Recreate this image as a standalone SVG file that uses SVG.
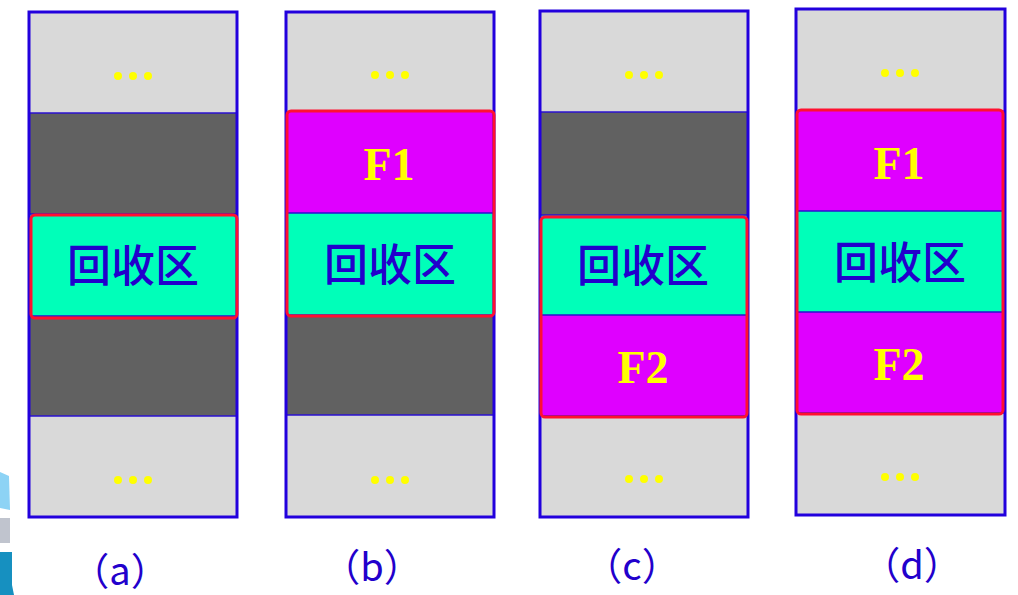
<svg xmlns="http://www.w3.org/2000/svg" width="1018" height="595" viewBox="0 0 1018 595">
<style>
.lg{fill:#D9D9D9}
.dk{fill:#616161}
.cy{fill:#00FFB9}
.mg{fill:#DF00FF}
.sep{stroke:#2A10D0;stroke-width:1.5}
.out{fill:none;stroke:#2200DD;stroke-width:3}
.red{fill:none;stroke:#FF1030;stroke-width:3}
.dot{fill:#FFFF00}
.cn{font-family:"Noto Sans CJK SC",sans-serif;font-size:44px;font-weight:500;fill:#2200CC;text-anchor:middle}
.f{font-family:"Liberation Serif",serif;font-weight:bold;font-size:46px;fill:#FFFF00;text-anchor:middle}
.lab{font-family:"Noto Sans CJK SC",sans-serif;font-size:38px;fill:#2200CC;text-anchor:middle}
</style>
<rect width="1018" height="595" fill="#FFFFFF"/>
<g id="decor">
<polygon points="0,472 9,476 10,510 0,508" fill="#8DD3F5"/>
<polygon points="0,518 10,518 10,543 0,543" fill="#C0C4CE"/>
<polygon points="0,552 12,552 12,585 14,595 0,595" fill="#1690C0"/>
</g>
<g id="col-a">
<rect class="lg" x="29" y="12" width="208" height="101"/>
<rect class="dk" x="29" y="113" width="208" height="101"/>
<rect class="cy" x="29" y="214" width="208" height="102"/>
<rect class="dk" x="29" y="316" width="208" height="100"/>
<rect class="lg" x="29" y="416" width="208" height="101"/>
<line class="sep" x1="29" y1="113" x2="237" y2="113"/>
<line class="sep" x1="29" y1="214" x2="237" y2="214"/>
<line class="sep" x1="29" y1="316" x2="237" y2="316"/>
<line class="sep" x1="29" y1="416" x2="237" y2="416"/>
<rect class="out" x="29" y="12" width="208" height="505"/>
<rect class="red" x="31" y="215" width="206" height="103" rx="4"/>
<circle class="dot" cx="118" cy="76" r="4"/><circle class="dot" cx="133" cy="76" r="4"/><circle class="dot" cx="148" cy="76" r="4"/>
<circle class="dot" cx="118" cy="480" r="4"/><circle class="dot" cx="133" cy="480" r="4"/><circle class="dot" cx="148" cy="480" r="4"/>
<text class="cn" x="133" y="282">回收区</text>
<text class="lab" x="120" y="585">（a）</text>
</g>
<g id="col-b">
<rect class="lg" x="286" y="12" width="208" height="99"/>
<rect class="mg" x="286" y="111" width="208" height="102"/>
<rect class="cy" x="286" y="213" width="208" height="102"/>
<rect class="dk" x="286" y="315" width="208" height="100"/>
<rect class="lg" x="286" y="415" width="208" height="102"/>
<line class="sep" x1="286" y1="213" x2="494" y2="213"/>
<line class="sep" x1="286" y1="315" x2="494" y2="315"/>
<line class="sep" x1="286" y1="415" x2="494" y2="415"/>
<rect class="out" x="286" y="12" width="208" height="505"/>
<rect class="red" x="287" y="111" width="207" height="205" rx="4"/>
<circle class="dot" cx="375" cy="75" r="4"/><circle class="dot" cx="390" cy="75" r="4"/><circle class="dot" cx="405" cy="75" r="4"/>
<circle class="dot" cx="375" cy="480" r="4"/><circle class="dot" cx="390" cy="480" r="4"/><circle class="dot" cx="405" cy="480" r="4"/>
<text class="f" x="389" y="180">F1</text>
<text class="cn" x="390" y="281">回收区</text>
<text class="lab" x="372" y="581">（b）</text>
</g>
<g id="col-c">
<rect class="lg" x="540" y="11" width="208" height="101"/>
<rect class="dk" x="540" y="112" width="208" height="103"/>
<rect class="cy" x="540" y="215" width="208" height="100"/>
<rect class="mg" x="540" y="315" width="208" height="101"/>
<rect class="lg" x="540" y="416" width="208" height="101"/>
<line class="sep" x1="540" y1="112" x2="748" y2="112"/>
<line class="sep" x1="540" y1="215" x2="748" y2="215"/>
<line class="sep" x1="540" y1="315" x2="748" y2="315"/>
<line class="sep" x1="540" y1="416" x2="748" y2="416"/>
<rect class="out" x="540" y="11" width="208" height="506"/>
<rect class="red" x="541" y="217" width="206" height="200" rx="4"/>
<circle class="dot" cx="629" cy="75" r="4"/><circle class="dot" cx="644" cy="75" r="4"/><circle class="dot" cx="659" cy="75" r="4"/>
<circle class="dot" cx="629" cy="479" r="4"/><circle class="dot" cx="644" cy="479" r="4"/><circle class="dot" cx="659" cy="479" r="4"/>
<text class="cn" x="643" y="282">回收区</text>
<text class="f" x="643" y="383">F2</text>
<text class="lab" x="632" y="580">（c）</text>
</g>
<g id="col-d">
<rect class="lg" x="796" y="9" width="209" height="101"/>
<rect class="mg" x="796" y="110" width="209" height="101"/>
<rect class="cy" x="796" y="211" width="209" height="101"/>
<rect class="mg" x="796" y="312" width="209" height="101"/>
<rect class="lg" x="796" y="413" width="209" height="102"/>
<line class="sep" x1="796" y1="211" x2="1005" y2="211"/>
<line class="sep" x1="796" y1="312" x2="1005" y2="312"/>
<line class="sep" x1="796" y1="413" x2="1005" y2="413"/>
<rect class="out" x="796" y="9" width="209" height="506"/>
<rect class="red" x="797" y="110" width="206" height="304" rx="4"/>
<circle class="dot" cx="885" cy="73" r="4"/><circle class="dot" cx="900" cy="73" r="4"/><circle class="dot" cx="915" cy="73" r="4"/>
<circle class="dot" cx="885" cy="477" r="4"/><circle class="dot" cx="900" cy="477" r="4"/><circle class="dot" cx="915" cy="477" r="4"/>
<text class="f" x="899" y="179">F1</text>
<text class="cn" x="900" y="279">回收区</text>
<text class="f" x="899" y="380">F2</text>
<text class="lab" x="912" y="579">（d）</text>
</g>
</svg>
